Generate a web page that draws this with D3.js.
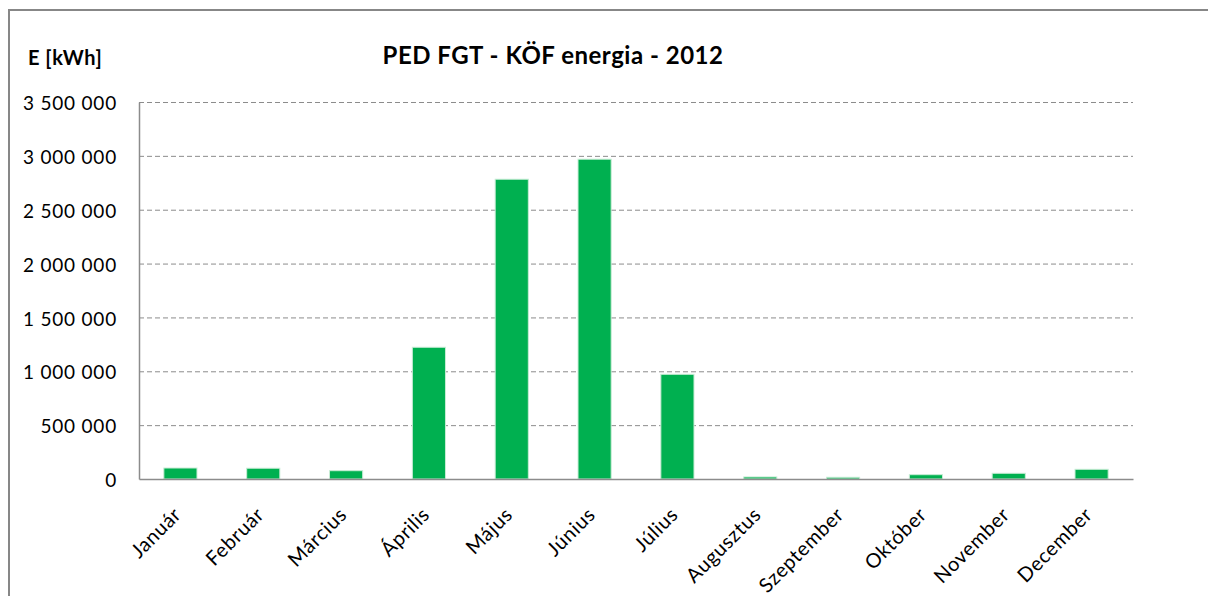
<!doctype html>
<html>
<head>
<meta charset="utf-8">
<style>
    body { margin: 0; background: #fff; }
    text { font-family: Lato, "Open Sans", sans-serif; fill: #000; }
    .grid line { stroke: #8c8c8c; stroke-dasharray: 5,3; }
    .bar { fill: #00b050; stroke: #c8ecd5; stroke-width: 1; }
</style>
<script src="https://d3js.org/d3.v7.min.js"></script>
</head>
<body>
<script>
    // data
    var months = ["Január", "Február", "Március", "Április", "Május", "Június",
        "Július", "Augusztus", "Szeptember", "Október", "November", "December"];
    var energy = [102000, 100000, 77000, 1223000, 2783000, 2969000,
        972000, 19000, 16000, 40000, 53000, 90000];
    var yTicks = [0, 500000, 1000000, 1500000, 2000000, 2500000, 3000000, 3500000];

    var canvasWidth = 1208;
    var canvasHeight = 596;
    var margin = {top: 102, right: 75, bottom: 117, left: 139};

    var svg = d3.select("body").append("svg")
        .attr("width", canvasWidth)
        .attr("height", canvasHeight);

    // chart frame (runs off the right and bottom edge)
    svg.append("rect")
        .attr("x", 9).attr("y", 10)
        .attr("width", 1240).attr("height", 640)
        .attr("fill", "none")
        .attr("stroke", "#878787")
        .attr("stroke-width", 2);

    var width = canvasWidth - margin.left - margin.right;
    var height = canvasHeight - margin.top - margin.bottom;

    var g = svg.append("g")
        .attr("transform", "translate(" + margin.left + "," + margin.top + ")");

    var xScale = d3.scaleBand().domain(months).range([0, width]).paddingInner(0.6).paddingOuter(0.3);
    var yScale = d3.scaleLinear().domain([0, 3500000]).range([height, 0]);

    var fmt = d3.formatLocale({decimal: ",", thousands: "\u00a0", grouping: [3], currency: ["", ""]}).format(",d");

    // dashed gridlines
    g.append("g").attr("class", "grid")
        .selectAll("line")
        .data(yTicks.slice(1))
        .enter().append("line")
        .attr("x1", 0).attr("x2", width)
        .attr("y1", function(d) { return yScale(d) + 0.5; })
        .attr("y2", function(d) { return yScale(d) + 0.5; });

    // y axis
    var yAxis = g.append("g")
        .call(d3.axisLeft(yScale).tickValues(yTicks).tickSize(0).tickPadding(22).tickFormat(fmt));
    yAxis.select(".domain").attr("stroke", "#8c8c8c").attr("stroke-width", 1.5);
    yAxis.selectAll("text")
        .attr("font-size", 19)
        .attr("letter-spacing", "0.8px")
        .attr("dy", "0.4em")
        .attr("fill", "#000");

    // bars
    g.selectAll(".bar")
        .data(energy)
        .enter().append("rect")
        .attr("class", "bar")
        .attr("x", function(d, i) { return xScale(months[i]); })
        .attr("y", function(d) { return yScale(d); })
        .attr("width", xScale.bandwidth())
        .attr("height", function(d) { return height - yScale(d); });

    // x axis
    var xAxis = g.append("g")
        .attr("transform", "translate(0," + height + ")")
        .call(d3.axisBottom(xScale).tickSize(0).tickPadding(0));
    xAxis.select(".domain").attr("stroke", "#8c8c8c").attr("stroke-width", 1.5);
    xAxis.selectAll("text")
        .attr("font-size", 20)
        .attr("letter-spacing", "0.6px")
        .attr("fill", "#000")
        .attr("text-anchor", "end")
        .attr("dy", 0)
        .attr("transform", "translate(2,37) rotate(-45)");

    // titles
    svg.append("text")
        .attr("x", 553).attr("y", 64)
        .attr("text-anchor", "middle")
        .attr("font-size", 24)
        .attr("letter-spacing", "0.5px")
        .attr("font-weight", "bold")
        .text("PED FGT - KÖF energia - 2012");

    svg.append("text")
        .attr("x", 28).attr("y", 65)
        .attr("font-size", 20)
        .attr("letter-spacing", "0.5px")
        .attr("font-weight", "bold")
        .text("E [kWh]");
</script>
</body>
</html>
